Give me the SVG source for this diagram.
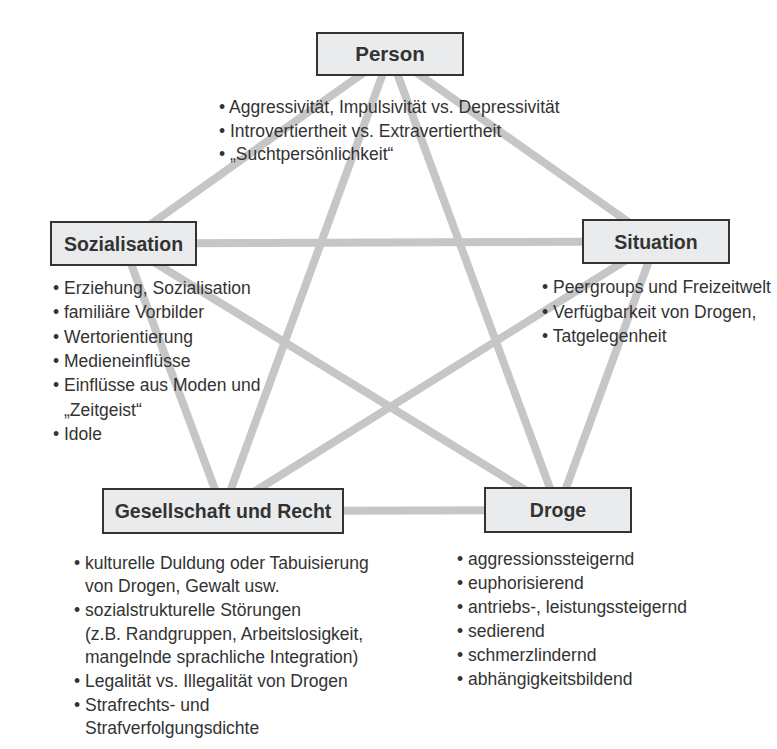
<svg xmlns="http://www.w3.org/2000/svg" width="777" height="749" viewBox="0 0 777 749">
<style>
.edge{stroke:#c6c6c6;stroke-width:8;stroke-linecap:butt;fill:none}
.box{fill:#eaebec;stroke:#333;stroke-width:2}
.head{font-family:"Liberation Sans",Arial,sans-serif;font-weight:bold;font-size:19.5px;fill:#333;text-anchor:middle}
.list{font-family:"Liberation Sans",Arial,sans-serif;font-size:17.5px;fill:#333}
</style>
<rect width="777" height="749" fill="#ffffff"/>
<g id="connectors">
<line class="edge" x1="390" y1="54" x2="123.5" y2="243.5"/>
<line class="edge" x1="390" y1="54" x2="656" y2="241.5"/>
<line class="edge" x1="390" y1="54" x2="223" y2="511"/>
<line class="edge" x1="390" y1="54" x2="558" y2="510"/>
<line class="edge" x1="123.5" y1="243.5" x2="656" y2="241.5"/>
<line class="edge" x1="123.5" y1="243.5" x2="223" y2="511"/>
<line class="edge" x1="123.5" y1="243.5" x2="558" y2="510"/>
<line class="edge" x1="656" y1="241.5" x2="558" y2="510"/>
<line class="edge" x1="656" y1="241.5" x2="223" y2="511"/>
<line class="edge" x1="223" y1="511" x2="558" y2="510"/>
</g>
<g id="person">
<rect class="box" x="317" y="33" width="146" height="42"/>
<text class="head" x="390" y="61" style="font-size:20.5px">Person</text>
<text class="list">
<tspan x="219" y="113">• Aggressivität, Impulsivität vs. Depressivität</tspan>
<tspan x="219" y="137">• Introvertiertheit vs. Extravertiertheit</tspan>
<tspan x="219" y="160">• „Suchtpersönlichkeit“</tspan>
</text>
</g>
<g id="sozialisation">
<rect class="box" x="51" y="222" width="145" height="43"/>
<text class="head" x="123.5" y="250.5">Sozialisation</text>
<text class="list">
<tspan x="53" y="294">• Erziehung, Sozialisation</tspan>
<tspan x="53" y="318">• familiäre Vorbilder</tspan>
<tspan x="53" y="343">• Wertorientierung</tspan>
<tspan x="53" y="367">• Medieneinflüsse</tspan>
<tspan x="53" y="391">• Einflüsse aus Moden und</tspan>
<tspan x="64" y="416">„Zeitgeist“</tspan>
<tspan x="53" y="440">• Idole</tspan>
</text>
</g>
<g id="situation">
<rect class="box" x="583" y="220" width="146" height="43"/>
<text class="head" x="656" y="248.5">Situation</text>
<text class="list">
<tspan x="542" y="293">• Peergroups und Freizeitwelt</tspan>
<tspan x="542" y="318">• Verfügbarkeit von Drogen,</tspan>
<tspan x="542" y="342">• Tatgelegenheit</tspan>
</text>
</g>
<g id="gesellschaft">
<rect class="box" x="103" y="489" width="240" height="44"/>
<text class="head" x="223" y="518">Gesellschaft und Recht</text>
<text class="list">
<tspan x="74" y="569">• kulturelle Duldung oder Tabuisierung</tspan>
<tspan x="85" y="592">von Drogen, Gewalt usw.</tspan>
<tspan x="74" y="616">• sozialstrukturelle Störungen</tspan>
<tspan x="85" y="640">(z.B. Randgruppen, Arbeitslosigkeit,</tspan>
<tspan x="85" y="663">mangelnde sprachliche Integration)</tspan>
<tspan x="74" y="687">• Legalität vs. Illegalität von Drogen</tspan>
<tspan x="74" y="711">• Strafrechts- und</tspan>
<tspan x="85" y="734">Strafverfolgungsdichte</tspan>
</text>
</g>
<g id="droge">
<rect class="box" x="485" y="488" width="146" height="44"/>
<text class="head" x="558" y="517">Droge</text>
<text class="list">
<tspan x="457" y="565">• aggressionssteigernd</tspan>
<tspan x="457" y="589">• euphorisierend</tspan>
<tspan x="457" y="613">• antriebs-, leistungssteigernd</tspan>
<tspan x="457" y="637">• sedierend</tspan>
<tspan x="457" y="661">• schmerzlindernd</tspan>
<tspan x="457" y="685">• abhängigkeitsbildend</tspan>
</text>
</g>
</svg>
